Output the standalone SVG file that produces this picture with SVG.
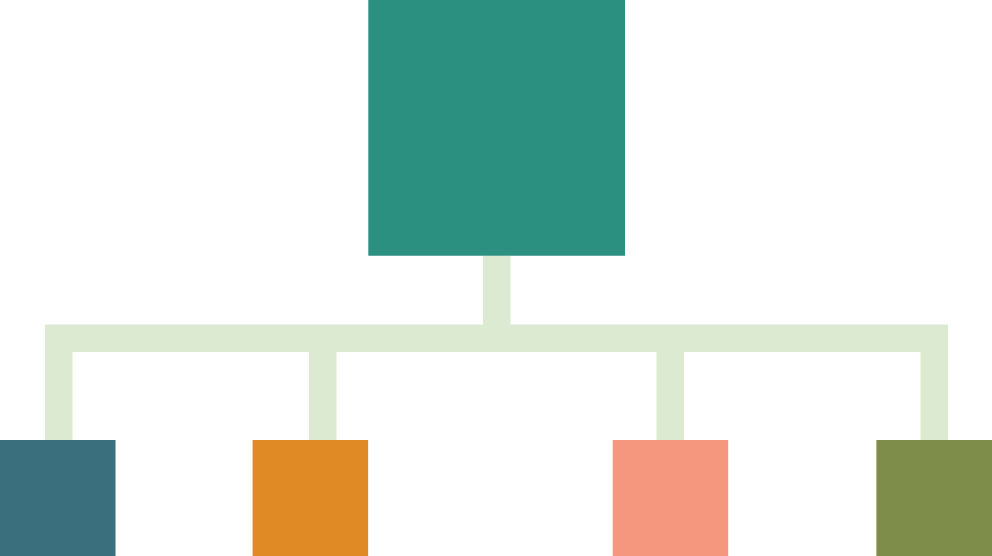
<svg xmlns="http://www.w3.org/2000/svg" width="992" height="556" viewBox="0 0 992 556">
<style>
.conn{fill:none;stroke:#DCEAD2;stroke-width:27.5;stroke-linejoin:miter;stroke-linecap:butt}
</style>
<rect width="992" height="556" fill="#FFFFFF"/>
<g id="connectors">
<path class="conn" d="M58.75 440 V338.25 H934.25 V440"/>
<path class="conn" d="M496.75 255.75 V338.25"/>
<path class="conn" d="M322.75 338.25 V440"/>
<path class="conn" d="M670.25 338.25 V440"/>
</g>
<g id="root"><rect x="368.3" y="0" width="256.7" height="255.75" fill="#2C9080"/></g>
<g id="child1"><rect x="0" y="440" width="115.5" height="116" fill="#3A6F7E"/></g>
<g id="child2"><rect x="252.6" y="440" width="115.5" height="116" fill="#DF8A25"/></g>
<g id="child3"><rect x="612.7" y="440" width="115.5" height="116" fill="#F4977E"/></g>
<g id="child4"><rect x="876.4" y="440" width="115.6" height="116" fill="#7F8D4A"/></g>
</svg>
